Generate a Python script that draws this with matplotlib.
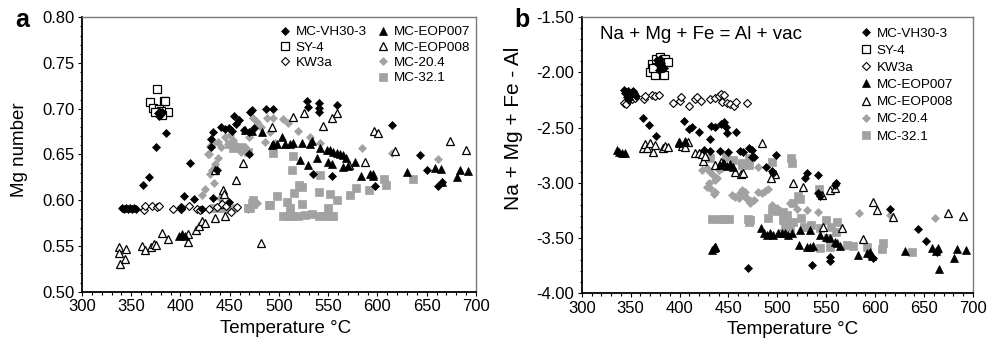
import matplotlib
matplotlib.use('Agg')
import matplotlib.pyplot as plt
from matplotlib.ticker import MultipleLocator, FormatStrFormatter
from matplotlib.lines import Line2D

plt.rcParams['font.family'] = ['Liberation Sans', 'DejaVu Sans']
plt.rcParams['axes.unicode_minus'] = False

series_names = ['MC-VH30-3', 'SY-4', 'KW3a', 'MC-EOP007', 'MC-EOP008', 'MC-20.4', 'MC-32.1']

# ---------------- Panel a: Mg number ----------------
vh_a_T = [341, 343, 345, 347, 349, 351, 353, 355, 361.5, 368.3, 375.1, 385.3, 377, 378, 379, 380, 381,
          409.9, 403.9, 413.8, 401, 422, 432.7, 437, 449, 432.7, 430.6, 430.5, 441.4, 445.5, 448.9, 452.3,
          454, 459.1, 456.3, 464.2, 469.2, 470.9, 470, 472.8, 475, 486.8, 494.2, 528, 529, 541, 541, 541, 559,
          534.8, 553.5, 597.5, 614.4, 643.1, 650.6, 661.7, 665]
vh_a_v = [0.591, 0.590, 0.591, 0.590, 0.591, 0.590, 0.591, 0.590, 0.617, 0.625, 0.658, 0.673, 0.695, 0.692, 0.697, 0.694, 0.696,
          0.641, 0.605, 0.601, 0.591, 0.590, 0.602, 0.633, 0.598, 0.675, 0.667, 0.658, 0.680, 0.678, 0.679, 0.676,
          0.692, 0.688, 0.683, 0.677, 0.675, 0.697, 0.650, 0.699, 0.679, 0.700, 0.700, 0.708, 0.702, 0.706, 0.701, 0.696, 0.704,
          0.629, 0.626, 0.616, 0.682, 0.649, 0.633, 0.616, 0.620]

sy_a_T = [376, 369.4, 372, 382.9, 384.5, 387.3, 378, 380, 374, 381]
sy_a_v = [0.722, 0.707, 0.701, 0.708, 0.709, 0.696, 0.700, 0.698, 0.697, 0.693]

kw_a_T = [362.6, 364.3, 371.1, 376.1, 378.5, 392.1, 400.8, 401, 408.9, 416.8, 420.2, 428.6, 437, 442.1, 446.2, 451.6, 457.4]
kw_a_v = [0.5897, 0.5933, 0.5933, 0.5926, 0.5933, 0.5908, 0.5908, 0.5926, 0.5933, 0.5908, 0.5897, 0.5908, 0.5926, 0.5963, 0.5933, 0.5871, 0.5926]

e7_a_T = [398.2, 401.5, 404.9, 466, 473, 482.4, 492.6, 494.2, 497.6, 502.7, 506.1, 511.2, 514.6, 523, 531.5, 533.2, 541.6, 548.4,
          551.8, 555.2, 558.6, 562, 565.3, 568.1, 521.3, 529.8, 538.2, 550, 553.5, 565.3, 570.4, 577.2, 583, 592.4,
          595.1, 595.7, 630.3, 658.4, 664.1, 683.8, 692.2, 680.4, 665.2]
e7_a_v = [0.561, 0.563, 0.561, 0.677, 0.676, 0.675, 0.660, 0.662, 0.661, 0.669, 0.662, 0.661, 0.663, 0.663, 0.662, 0.665, 0.657, 0.655,
          0.655, 0.653, 0.652, 0.650, 0.649, 0.646, 0.644, 0.638, 0.646, 0.642, 0.640, 0.636, 0.637, 0.642, 0.626, 0.629,
          0.627, 0.629, 0.631, 0.635, 0.634, 0.633, 0.632, 0.625, 0.620]

e8_a_T = [337.2, 337.9, 344.7, 338.9, 344, 361, 363.7, 370.4, 372.8, 375.1, 381.2, 387.3, 407.6, 407.6, 415.7, 419.1,
          421.8, 425.2, 435.3, 444.8, 442.8, 443.8, 441.4, 434.7, 463.8, 456.7, 482, 492.6, 514.7, 525.4, 544.4,
          553.6, 558.6, 571, 587.3, 596.4, 600.8, 617.8, 673.6, 689.8]
e8_a_v = [0.5487, 0.5422, 0.547, 0.5306, 0.536, 0.550, 0.5459, 0.5487, 0.5524, 0.5506, 0.564, 0.558, 0.5542, 0.5634, 0.567, 0.5714,
          0.5772, 0.575, 0.5805, 0.5824, 0.6108, 0.6065, 0.5955, 0.6335, 0.641, 0.6226, 0.5536, 0.680, 0.6905, 0.6955, 0.681,
          0.6896, 0.6955, 0.638, 0.642, 0.6758, 0.673, 0.654, 0.665, 0.6547]

m20_a_T = [421.7, 425, 433.6, 438.6, 435, 432.5, 428.5, 430, 432.5, 427.5, 433.6, 438.6, 441, 440.3, 445.4, 450.5, 453.8,
           457.9, 461.3, 465.7, 470, 473.4, 478.2, 481.6, 487.6, 494.4, 490.4, 486, 496.4, 504.4, 509.5, 519.6, 531.5,
           541.6, 584, 614.4, 661.1, 477.5, 469, 430, 448, 455, 462]
m20_a_v = [0.6057, 0.612, 0.619, 0.646, 0.640, 0.633, 0.651, 0.659, 0.662, 0.6506, 0.6622, 0.664, 0.6586, 0.602, 0.6695, 0.6713, 0.6659,
           0.6586, 0.6531, 0.6586, 0.6695, 0.6896, 0.6859, 0.6804, 0.6896, 0.6896, 0.675, 0.664, 0.6622, 0.6883, 0.684, 0.6758, 0.669,
           0.6627, 0.6567, 0.6513, 0.645, 0.5966, 0.590, 0.629, 0.662, 0.661, 0.657]

m32_a_T = [433.6, 438.6, 443, 448, 453, 449, 453.8, 460.6, 469, 469, 472.4, 474.1, 491, 494.2, 497.6, 490.2, 514.6, 512.9,
           515.2, 520.6, 523, 541.6, 541, 551.8, 558.6, 572, 578.2, 591.7, 606.6, 608.6, 636.4, 504.4, 507.8, 511.2,
           514.6, 519.6, 526.4, 533.2, 541, 545, 552.5, 555.2, 507.8, 511.2, 523, 550, 473.3, 470.6]
m32_a_v = [0.591, 0.5911, 0.592, 0.5905, 0.591, 0.662, 0.6568, 0.6586, 0.653, 0.591, 0.5966, 0.600, 0.5948, 0.6517, 0.6043, 0.5944, 0.648, 0.6327,
           0.6079, 0.6163, 0.6145, 0.6273, 0.609, 0.6072, 0.6007, 0.6061, 0.6138, 0.6116, 0.6237, 0.6163, 0.6237, 0.5824, 0.5824, 0.5824,
           0.5824, 0.5824, 0.5838, 0.5852, 0.5824, 0.5824, 0.583, 0.5824, 0.598, 0.591, 0.5955, 0.591, 0.5963, 0.591]

# ---------------- Panel b: Na + Mg + Fe - Al ----------------
vh_b_T = [343, 345, 347, 349, 351, 353, 355, 346, 348, 344, 352, 377, 378, 380, 382, 384, 379, 381,
          362.4, 368.5, 376, 404.3, 409.4, 412.7, 420.2, 430.8, 432.5, 436, 442.7, 445.2, 447.5, 448.8, 457.7,
          424.5, 431.3, 441.5, 450, 462, 465.2, 470.7, 473.8, 473.8, 476.1, 498.6, 488.4, 494.2, 495.9, 470.3,
          530, 528.3, 541.9, 543.6, 541.9, 559.9, 558.9, 535.1, 553.8, 553.8, 615.2, 644.1, 651.9, 662.9, 598.1, 594]
vh_b_v = [-2.16, -2.18, -2.17, -2.20, -2.18, -2.19, -2.21, -2.22, -2.24, -2.19, -2.17, -1.89, -1.92, -1.88, -1.94, -1.96, -1.98, -1.91,
          -2.415, -2.476, -2.572, -2.44, -2.515, -2.496, -2.542, -2.60, -2.482, -2.496, -2.467, -2.446, -2.496, -2.545, -2.536,
          -2.70, -2.71, -2.71, -2.72, -2.71, -2.717, -2.687, -2.702, -2.763, -2.768, -2.747, -2.859, -2.889, -2.907, -3.773,
          -2.913, -2.958, -2.929, -3.119, -3.094, -2.998, -3.019, -3.744, -3.668, -3.705, -3.236, -3.42, -3.526, -3.623, -3.683, -3.65]

sy_b_T = [370.1, 371.9, 376, 380.3, 384.8, 388.2, 374.6, 383.8, 378.7, 372.5]
sy_b_v = [-1.993, -1.923, -1.88, -1.857, -1.88, -1.902, -2.023, -2.023, -1.962, -1.96]

kw_b_T = [342.9, 345.3, 348, 351.4, 354.8, 363.4, 365, 371.9, 375.2, 378.7, 393, 400.8, 401.8, 409.4, 416.1, 417.9,
          422.3, 431.5, 436, 440, 442.7, 445.2, 443.4, 448.5, 451.9, 455.3, 457.7, 469]
kw_b_v = [-2.273, -2.285, -2.249, -2.243, -2.234, -2.243, -2.213, -2.204, -2.213, -2.204, -2.273, -2.258, -2.225, -2.303, -2.243, -2.225,
          -2.258, -2.243, -2.234, -2.213, -2.195, -2.204, -2.264, -2.273, -2.285, -2.303, -2.264, -2.279]

e7_b_T = [337.8, 341.2, 344.6, 336.5, 399.2, 406, 433, 434.7, 436.4, 441.5, 444.5, 448, 452, 455,
          483, 486.4, 489.1, 492.5, 495.9, 501, 504.4, 507.8, 511.2, 514.7, 522.4, 530, 533.4, 536.7, 543.6, 549.7,
          553.8, 559, 561.3, 564, 582.7, 591.3, 594.3, 596.3, 630.5, 657.8, 662.2, 664.5, 665.6, 680.6, 684, 692.8,
          523.2, 533.4]
e7_b_v = [-2.717, -2.732, -2.726, -2.705, -2.641, -2.62, -3.607, -3.592, -3.583, -2.84, -2.82, -2.85, -2.83, -2.86,
          -3.411, -3.457, -3.472, -3.457, -3.472, -3.457, -3.451, -3.457, -3.472, -3.457, -3.563, -3.583, -3.578, -3.571, -3.472, -3.487,
          -3.502, -3.533, -3.547, -3.571, -3.653, -3.638, -3.623, -3.662, -3.617, -3.592, -3.614, -3.592, -3.783, -3.677, -3.599, -3.608,
          -3.427, -3.427]

e8_b_T = [362.4, 364.4, 366.8, 370.1, 372.6, 375.2, 382.8, 385.5, 388.2, 399.2, 402.5, 405.9, 408.6, 416.1, 419.6, 423,
          423.7, 426.3, 436.6, 442.7, 445.2, 457, 463.1, 484, 497.6, 493.2, 464.6, 515.7, 525.9, 545.3, 553.8, 558.9,
          565.8, 547, 587.9, 597.5, 601.5, 618.5, 674.8, 690.1, 436]
e8_b_v = [-2.687, -2.648, -2.687, -2.641, -2.717, -2.657, -2.687, -2.666, -2.678, -2.627, -2.666, -2.672, -2.627, -2.726, -2.726, -2.738,
          -2.799, -2.756, -2.838, -2.808, -2.829, -2.899, -2.919, -2.641, -2.919, -2.958, -2.913, -3.004, -3.034, -3.11, -3.064, -3.049,
          -3.411, -3.402, -3.511, -3.17, -3.245, -3.312, -3.275, -3.30, -3.58]

m20_b_T = [423, 428.1, 431.5, 433.9, 429.8, 428.1, 431.5, 436.6, 434.9, 440, 443.4, 436.6, 438.3, 453.6, 457, 461.1,
           463.9, 467.3, 470.7, 472.4, 461.8, 465.9, 468.7, 472.8, 476.1, 480.5, 484, 487.4, 490.7, 480.5, 494.2,
           499.3, 512.9, 519.8, 530, 541.9, 583.8, 615.2, 661.2, 463.6]
m20_b_v = [-2.883, -2.868, -2.898, -2.928, -3.004, -3.034, -3.049, -3.08, -3.10, -2.883, -2.868, -2.974, -2.958, -3.11, -3.125, -3.14,
           -3.094, -3.08, -3.155, -3.179, -3.094, -3.11, -3.149, -3.161, -3.155, -3.08, -3.089, -3.071, -3.058, -2.859, -3.20,
           -3.23, -3.185, -3.239, -3.245, -3.26, -3.27, -3.29, -3.321, -3.064]

m32_b_T = [431.5, 447.5, 463.9, 470.7, 433.2, 440, 445.2, 450.3, 470.7, 472.4, 463.5, 471.3, 494.2, 513.6, 514.7,
           494.2, 499.3, 490.8, 506.1, 509.6, 505.5, 511.2, 507.8, 512.9, 506.1, 515.7, 515.7, 521.4, 523.1, 523.9,
           527.3, 534.1, 542.9, 543.6, 543.6, 549.7, 552.1, 554.5, 560.6, 559.9, 553.8, 570.8, 577.6, 470.3, 592,
           608.3, 606.6, 637.3, 455]
m32_b_v = [-2.777, -2.768, -2.838, -2.777, -3.33, -3.33, -3.33, -3.33, -3.351, -3.336, -2.823, -2.838, -2.808, -2.777, -2.823,
           -3.245, -3.252, -3.321, -3.26, -3.291, -3.336, -3.351, -3.402, -3.397, -3.457, -3.351, -3.185, -3.119, -3.149, -3.321,
           -3.402, -3.381, -3.058, -3.411, -3.592, -3.336, -3.502, -3.402, -3.351, -3.442, -3.578, -3.562, -3.571, -3.33, -3.578,
           -3.547, -3.601, -3.623, -2.79]

gray = '#a2a2a2'
styles = {
    'MC-VH30-3': dict(marker='D', ms=4.0, mfc='black', mec='black', mew=0.5),
    'SY-4': dict(marker='s', ms=5.5, mfc='white', mec='black', mew=0.9),
    'KW3a': dict(marker='D', ms=3.6, mfc='white', mec='black', mew=0.8),
    'MC-EOP007': dict(marker='^', ms=5.2, mfc='black', mec='black', mew=0.5),
    'MC-EOP008': dict(marker='^', ms=5.2, mfc='white', mec='black', mew=0.9),
    'MC-20.4': dict(marker='D', ms=4.2, mfc=gray, mec=gray, mew=0.5),
    'MC-32.1': dict(marker='s', ms=6.0, mfc=gray, mec=gray, mew=0.5),
}

data_a = {'MC-VH30-3': (vh_a_T, vh_a_v), 'SY-4': (sy_a_T, sy_a_v), 'KW3a': (kw_a_T, kw_a_v),
          'MC-EOP007': (e7_a_T, e7_a_v), 'MC-EOP008': (e8_a_T, e8_a_v),
          'MC-20.4': (m20_a_T, m20_a_v), 'MC-32.1': (m32_a_T, m32_a_v)}
data_b = {'MC-VH30-3': (vh_b_T, vh_b_v), 'SY-4': (sy_b_T, sy_b_v), 'KW3a': (kw_b_T, kw_b_v),
          'MC-EOP007': (e7_b_T, e7_b_v), 'MC-EOP008': (e8_b_T, e8_b_v),
          'MC-20.4': (m20_b_T, m20_b_v), 'MC-32.1': (m32_b_T, m32_b_v)}

draw_order = ['MC-32.1', 'MC-20.4', 'MC-EOP008', 'MC-EOP007', 'KW3a', 'SY-4', 'MC-VH30-3']

fig = plt.figure(figsize=(9.91, 3.52), dpi=100)
axa = fig.add_axes([0.0827, 0.1713, 0.3976, 0.7796])
axb = fig.add_axes([0.587, 0.1668, 0.3949, 0.7841])

for ax, data in ((axa, data_a), (axb, data_b)):
    for name in draw_order:
        T, v = data[name]
        ax.plot(T, v, ls='none', **styles[name])
    ax.set_xlim(300, 700)
    ax.xaxis.set_major_locator(MultipleLocator(50))
    ax.xaxis.set_minor_locator(MultipleLocator(10))
    ax.yaxis.set_major_formatter(FormatStrFormatter('%.2f'))
    ax.tick_params(which='both', direction='out', top=False, right=False, labelsize=12, width=0.8)
    ax.tick_params(which='major', length=3, pad=2.5)
    ax.tick_params(which='minor', length=1.8)
    for s in ('left', 'bottom'):
        ax.spines[s].set_color('black')
        ax.spines[s].set_linewidth(1.3)
    for s in ('top', 'right'):
        ax.spines[s].set_color('#7a7a7a')
        ax.spines[s].set_linewidth(1.0)

axa.set_ylim(0.50, 0.80)
axa.yaxis.set_major_locator(MultipleLocator(0.05))
axa.yaxis.set_minor_locator(MultipleLocator(0.01))
axa.set_ylabel('Mg number', fontsize=13.5)
axa.yaxis.set_label_coords(-0.137, 0.516)
axa.set_xlabel('Temperature °C', fontsize=13.5)
axa.xaxis.set_label_coords(0.518, -0.104)

axb.set_ylim(-4.0, -1.5)
axb.yaxis.set_major_locator(MultipleLocator(0.5))
axb.yaxis.set_minor_locator(MultipleLocator(0.1))
axb.set_ylabel('Na + Mg + Fe - Al', fontsize=15)
axb.yaxis.set_label_coords(-0.149, 0.597)
axb.set_xlabel('Temperature °C', fontsize=13.5)
axb.xaxis.set_label_coords(0.54, -0.099)

axb.text(0.047, 0.936, 'Na + Mg + Fe = Al + vac', transform=axb.transAxes, fontsize=13.5, va='center', ha='left')


def handle(name):
    return Line2D([], [], ls='none', **styles[name])


leg_kw = dict(frameon=False, fontsize=9.7, handlelength=1.0, handletextpad=0.3, borderpad=0,
              borderaxespad=0, labelspacing=0.22, loc='upper left')
l1 = axa.legend([handle(n) for n in series_names[:3]], series_names[:3],
                bbox_to_anchor=(0.498, 0.969), **leg_kw)
axa.add_artist(l1)
axa.legend([handle(n) for n in series_names[3:]], series_names[3:],
           bbox_to_anchor=(0.746, 0.969), **leg_kw)

leg_kw_b = dict(leg_kw)
leg_kw_b['labelspacing'] = 0.35
axb.legend([handle(n) for n in series_names], series_names, bbox_to_anchor=(0.709, 0.964), **leg_kw_b)

fig.text(0.015, 0.923, 'a', fontsize=18, fontweight='bold', va='baseline', ha='left')
fig.text(0.519, 0.923, 'b', fontsize=18, fontweight='bold', va='baseline', ha='left')

fig.savefig('out.png', dpi=100)
